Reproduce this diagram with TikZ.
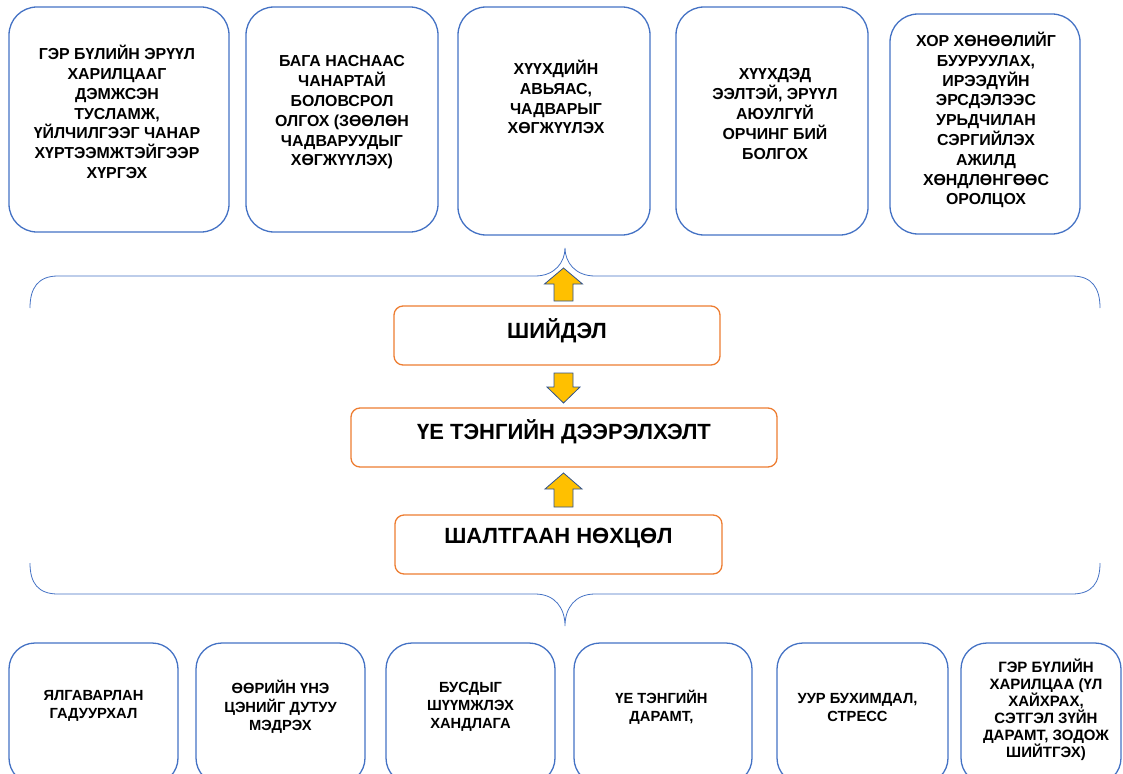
\documentclass[tikz,border=0pt]{standalone}
\usepackage{fontspec}
\setmainfont{Liberation Sans}
\usetikzlibrary{positioning}
\definecolor{boxblue}{HTML}{4472C4}
\definecolor{boxorange}{HTML}{ED7D31}
\definecolor{arrowgold}{HTML}{FFC000}
\definecolor{arrowedge}{HTML}{2F528F}

\begin{document}
\begin{tikzpicture}
        [x=1pt, y=-1pt,
         goal/.style={draw=boxblue, line width=1.3pt, rounded corners=28pt, inner sep=0pt},
         cause/.style={draw=boxblue, line width=1.3pt, rounded corners=26pt, inner sep=0pt, minimum height=141pt},
         stage/.style={draw=boxorange, line width=1.3pt, rounded corners=9pt, inner sep=0pt, minimum height=59pt},
         goaltext/.style={align=center, font=\bfseries\fontsize{15.9}{19.8}\selectfont},
         causetext/.style={align=center, font=\bfseries\fontsize{14.7}{18.3}\selectfont},
         stagetext/.style={font=\bfseries\fontsize{22}{26}\selectfont},
         brace/.style={draw=boxblue, line width=0.8pt},
         blockarrow/.style={fill=arrowgold, draw=arrowedge, line width=0.8pt, line join=miter}]

        \useasboundingbox (0,0) rectangle (1123,773);
        \clip (0,0) rectangle (1123,773);

        % goals on top
        \node[goal, minimum width=220pt, minimum height=225pt] (family care) at (119,119.5) {};
        \node[goaltext] (family care text) at ([xshift=-2pt, yshift=7.5pt]family care)
                {ГЭР БҮЛИЙН ЭРҮҮЛ\\ХАРИЛЦААГ\\ДЭМЖСЭН\\ТУСЛАМЖ,\\ҮЙЛЧИЛГЭЭГ ЧАНАР\\ХҮРТЭЭМЖТЭЙГЭЭР\\ХҮРГЭХ};
        \node[goal, minimum width=192pt, minimum height=225pt] (early school) at (342,119.5) {};
        \node[goaltext] (early school text) at ([yshift=7pt]early school)
                {БАГА НАСНААС\\ЧАНАРТАЙ\\БОЛОВСРОЛ\\ОЛГОХ (ЗӨӨЛӨН\\ЧАДВАРУУДЫГ\\ХӨГЖҮҮЛЭХ)};
        \node[goal, minimum width=192pt, minimum height=228pt] (talent) at (554,121) {};
        \node[goaltext] (talent text) at ([xshift=2pt, yshift=24pt]talent)
                {ХҮҮХДИЙН\\АВЬЯАС,\\ЧАДВАРЫГ\\ХӨГЖҮҮЛЭХ};
        \node[goal, minimum width=192pt, minimum height=228pt] (safe place) at (772,121) {};
        \node[goaltext] (safe place text) at ([xshift=3pt, yshift=7pt]safe place)
                {ХҮҮХДЭД\\ЭЭЛТЭЙ, ЭРҮҮЛ\\АЮУЛГҮЙ\\ОРЧИНГ БИЙ\\БОЛГОХ};
        \node[goal, minimum width=190pt, minimum height=220pt] (prevention) at (985,124) {};
        \node[goaltext] (prevention text) at ([xshift=1pt, yshift=4pt]prevention)
                {ХОР ХӨНӨӨЛИЙГ\\БУУРУУЛАХ,\\ИРЭЭДҮЙН\\ЭРСДЭЛЭЭС\\УРЬДЧИЛАН\\СЭРГИЙЛЭХ\\АЖИЛД\\ХӨНДЛӨНГӨӨС\\ОРОЛЦОХ};

        % braces
        \draw[brace] (30,308) .. controls (30,288) and (38,276) .. (58,276) -- (535,276)
                .. controls (555,276) and (565,262) .. (565,248)
                .. controls (565,262) and (575,276) .. (595,276) -- (1072,276)
                .. controls (1092,276) and (1100,288) .. (1100,308);
        \draw[brace] (30,563) .. controls (30,583) and (38,594) .. (58,594) -- (535,594)
                .. controls (555,594) and (565,608) .. (565,626)
                .. controls (565,608) and (575,594) .. (595,594) -- (1072,594)
                .. controls (1092,594) and (1100,583) .. (1100,563);

        % middle column
        \node[stage, minimum width=326pt] (solution) at (557,335.5) {};
        \node[stagetext] (solution text) at ([yshift=4.5pt]solution) {ШИЙДЭЛ};
        \node[stage, minimum width=426pt] (bullying) at (564,437.5) {};
        \node[stagetext] (bullying text) at ([yshift=6pt]bullying) {ҮЕ ТЭНГИЙН ДЭЭРЭЛХЭЛТ};
        \node[stage, minimum width=327pt] (reasons) at (558.5,544.5) {};
        \node[stagetext] (reasons text) at ([yshift=6.5pt]reasons) {ШАЛТГААН НӨХЦӨЛ};

        % block arrows
        \draw[blockarrow] (563.5,268) -- ++(19,16) -- ++(-9.5,0) -- ++(0,17) -- ++(-19,0)
                -- ++(0,-17) -- ++(-9.5,0) -- cycle;
        \draw[blockarrow] (563.5,403) -- ++(16.5,-16) -- ++(-7,0) -- ++(0,-14) -- ++(-19,0)
                -- ++(0,14) -- ++(-7,0) -- cycle;
        \draw[blockarrow] (563.5,473) -- ++(18.5,16) -- ++(-9,0) -- ++(0,18) -- ++(-19,0)
                -- ++(0,-18) -- ++(-9,0) -- cycle;

        % causes at the bottom
        \node[cause, minimum width=169pt] (exclusion) at (93.5,713.5) {};
        \node[causetext] (exclusion text) at ([yshift=7.5pt]exclusion) {ЯЛГАВАРЛАН\\ГАДУУРХАЛ};
        \node[cause, minimum width=169pt] (self worth) at (280.5,713.5) {};
        \node[causetext] (self worth text) at ([yshift=6.5pt]self worth)
                {ӨӨРИЙН ҮНЭ\\ЦЭНИЙГ ДУТУУ\\МЭДРЭХ};
        \node[cause, minimum width=169pt] (criticism) at (470.5,713.5) {};
        \node[causetext] (criticism text) at ([yshift=6.5pt]criticism)
                {БУСДЫГ\\ШҮҮМЖЛЭХ\\ХАНДЛАГА};
        \node[cause, minimum width=178pt] (peer pressure) at (663,713.5) {};
        \node[causetext] (peer pressure text) at ([xshift=-1.5pt, yshift=6pt]peer pressure)
                {ҮЕ ТЭНГИЙН\\ДАРАМТ,};
        \node[cause, minimum width=171pt] (stress) at (862.5,713.5) {};
        \node[causetext] (stress text) at ([xshift=-5pt, yshift=6pt]stress)
                {УУР БУХИМДАЛ,\\СТРЕСС};
        \node[cause, minimum width=160pt] (home) at (1041,713.5) {};
        \node[causetext, font=\bfseries\fontsize{15}{17}\selectfont] (home text)
                at ([xshift=5pt, yshift=3.5pt]home)
                {ГЭР БҮЛИЙН\\ХАРИЛЦАА (ҮЛ\\ХАЙХРАХ,\\СЭТГЭЛ ЗҮЙН\\ДАРАМТ, ЗОДОЖ\\ШИЙТГЭХ)};
\end{tikzpicture}
\end{document}
